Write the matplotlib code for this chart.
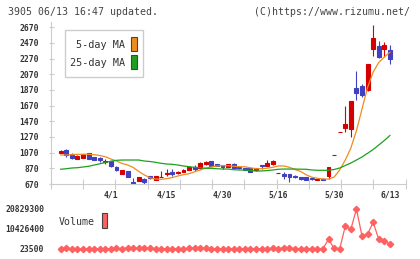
import numpy as np
import matplotlib
matplotlib.use("Agg")
from matplotlib import pyplot as plt
from matplotlib.patches import Rectangle

# Taille de l'image en pixels
W, H = 420, 259

# Dates affichées (index du jour de bourse) : du 3/18 au 6/13
labels = ["4/1", "4/15", "4/30", "5/16", "5/30", "6/13"]
label_idx = [9, 19, 29, 39, 49, 59]

# Bougies
opens = [1060, 1100, 1048, 993, 1005, 1065, 1010, 1000, 950, 965,
         890, 803, 830, 700, 710, 730, 770, 721, 755, 800,
         826, 808, 825, 855, 893, 870, 925, 960, 922, 915,
         892, 920, 890, 878, 878, 850, 912, 897, 927, 810,
         795, 795, 775, 758, 755, 750, 722, 740, 775, 1037,
         1337, 1390, 1370, 1890, 1920, 1870, 2395, 2435, 2390, 2380]
highs = [1105, 1115, 1060, 1040, 1055, 1065, 1020, 1015, 990, 965,
         895, 850, 832, 745, 765, 750, 775, 776, 840, 857,
         857, 840, 860, 890, 916, 945, 960, 963, 925, 916,
         925, 935, 905, 880, 880, 878, 912, 975, 975, 810,
         825, 800, 790, 760, 758, 755, 745, 742, 887, 1037,
         1337, 1665, 1729, 2112, 1946, 2200, 2700, 2495, 2480, 2445]
lows = [1060, 1020, 995, 990, 1000, 990, 975, 955, 930, 890,
        840, 800, 755, 670, 705, 668, 740, 715, 755, 776,
        772, 800, 823, 852, 840, 860, 915, 903, 895, 865,
        890, 878, 865, 845, 827, 840, 865, 895, 915, 810,
        740, 700, 750, 725, 720, 725, 720, 720, 730, 1037,
        1337, 1330, 1273, 1742, 1776, 1860, 2305, 2275, 2295, 2200]
closes = [1090, 1035, 1005, 1030, 1050, 993, 980, 970, 960, 905,
          843, 848, 765, 675, 755, 692, 745, 776, 760, 808,
          795, 825, 855, 888, 860, 932, 948, 905, 897, 885,
          920, 880, 875, 848, 828, 872, 905, 935, 965, 810,
          775, 755, 757, 733, 722, 730, 740, 722, 887, 1037,
          1337, 1435, 1729, 1835, 1800, 2200, 2530, 2295, 2445, 2265]

# Moyennes mobiles
ma5 = [1040, 1040, 1044, 1049, 1049, 1049, 1044, 1034, 1018, 989,
       964, 932, 913, 881, 830, 785, 750, 734, 730, 738,
       753, 772, 789, 801, 826, 849, 874, 887, 900, 904,
       904, 896, 891, 890, 877, 865, 865, 872, 883, 900,
       900, 883, 855, 830, 787, 757, 743, 734, 732, 759,
       849, 976, 1129, 1350, 1627, 1904, 2099, 2221, 2291, 2351]
ma25 = [858, 865, 874, 878, 887, 896, 912, 928, 944, 961,
        972, 976, 976, 976, 976, 963, 957, 947, 934, 925,
        921, 912, 900, 891, 883, 878, 870, 870, 865, 861,
        861, 852, 849, 849, 842, 836, 836, 842, 849, 858,
        861, 861, 861, 859, 858, 849, 845, 845, 845, 855,
        874, 906, 938, 976, 1015, 1062, 1110, 1168, 1225, 1289]

# Volumes
volumes = [250000, 520000, 230000, 180000, 200000, 260000, 190000, 170000, 210000, 240000,
           300000, 280000, 600000, 350000, 520000, 300000, 480000, 260000, 220000, 200000,
           190000, 180000, 230000, 300000, 620000, 480000, 330000, 260000, 210000, 190000,
           200000, 180000, 170000, 200000, 230000, 210000, 190000, 280000, 330000, 250000,
           650000, 480000, 260000, 220000, 200000, 190000, 210000, 230000, 5070000, 320000,
           23500, 11960000, 10250000, 20829300, 6760000, 7800000, 13900000, 5070000, 4000000, 2600000]
vol_ticks = [23500, 10426400, 20829300]

rouge = "#d40000"
bleu = "#4040c0"
orange = "#f08c1e"
vert = "#1ea01e"
vcol = "#ff6060"
gris = "#cccccc"
texte = "#333333"

plt.rcParams["font.family"] = "DejaVu Sans Mono"

fig = plt.figure(figsize=(W / 100, H / 100), dpi=100)


def fx(px):
    return px / W


def fy(py):
    return 1 - py / H


x = np.arange(len(closes))
xlim = (-1.792, 61.83)

# Graphique principal : bougies + moyennes mobiles
ax = fig.add_axes([fx(50.7), fy(184), 355 / W, 162.2 / H])
for i in x:
    c = rouge if closes[i] >= opens[i] else bleu
    ax.vlines(i, lows[i], highs[i], color=c, lw=0.8)
    ax.bar(i, closes[i] - opens[i], bottom=opens[i], width=0.7,
           color=c, edgecolor=c, lw=0.8)
ax.plot(x, ma5, color=orange, lw=0.9)
ax.plot(x, ma25, color=vert, lw=0.9)

ax.set_xlim(*xlim)
ax.set_ylim(670, 2740)
ax.set_yticks(range(670, 2671, 200))
ax.set_xticks(np.linspace(xlim[0], xlim[1], 12))
ax.set_xticks(label_idx, minor=True)
ax.set_xticklabels(labels, minor=True)
ax.tick_params(axis="x", which="major", direction="inout", length=6.5, width=0.8,
               color=gris, labelbottom=False)
ax.tick_params(axis="x", which="minor", length=0, pad=5, labelsize=5.8, labelcolor=texte)
ax.tick_params(axis="y", direction="inout", length=3.6, width=0.8, color=gris,
               pad=6.6, labelsize=5.8, labelcolor=texte)
for lab in ax.get_yticklabels() + ax.get_xticklabels(minor=True):
    lab.set_fontweight("bold")
for s in ["top", "right"]:
    ax.spines[s].set_visible(False)
for s in ["left", "bottom"]:
    ax.spines[s].set_color(gris)
    ax.spines[s].set_linewidth(0.8)

# Volume
vax = fig.add_axes([fx(50.7), fy(253), 355 / W, 48 / H])
vax.plot(x, volumes, color=vcol, lw=0.9, marker="D", ms=3.2)
vax.set_xlim(*xlim)
vax.set_ylim(-2057080, 22909880)
vax.set_yticks(vol_ticks)
vax.set_yticklabels([str(v) for v in vol_ticks])
vax.set_xticks([])
vax.tick_params(axis="y", length=0, pad=4.6, labelsize=5.8, labelcolor=texte)
for lab in vax.get_yticklabels():
    lab.set_fontweight("bold")
for s in vax.spines.values():
    s.set_visible(False)

# Légende des moyennes mobiles
fig.add_artist(Rectangle((fx(65), fy(77.3)), (143.3 - 65) / W, (77.3 - 30) / H,
                         transform=fig.transFigure, facecolor="white", edgecolor=gris, lw=1))
fig.text(fx(125), fy(45), "5-day MA", ha="right", va="center", fontsize=7.3, color=texte)
fig.text(fx(125), fy(62.5), "25-day MA", ha="right", va="center", fontsize=7.3, color=texte)
fig.add_artist(Rectangle((fx(131), fy(51)), 6.3 / W, 14 / H, transform=fig.transFigure,
                         facecolor=orange, edgecolor="#444444", lw=0.8))
fig.add_artist(Rectangle((fx(131), fy(69)), 6.3 / W, 14 / H, transform=fig.transFigure,
                         facecolor=vert, edgecolor="#444444", lw=0.8))

# Légende du volume
fig.text(fx(59), fy(222), "Volume", ha="left", va="center", fontsize=7.1, color=texte)
fig.add_artist(Rectangle((fx(101.7), fy(228)), 5.6 / W, 15 / H, transform=fig.transFigure,
                         facecolor=vcol, edgecolor="#444444", lw=0.8))

# En-tête
fig.text(fx(8.3), fy(12), "3905 06/13 16:47 updated.", ha="left", va="center",
         fontsize=7.1, color="#444444")
fig.text(fx(410), fy(12), "(C)https://www.rizumu.net/", ha="right", va="center",
         fontsize=7.1, color="#444444")

fig.savefig("out.png", dpi=100)
